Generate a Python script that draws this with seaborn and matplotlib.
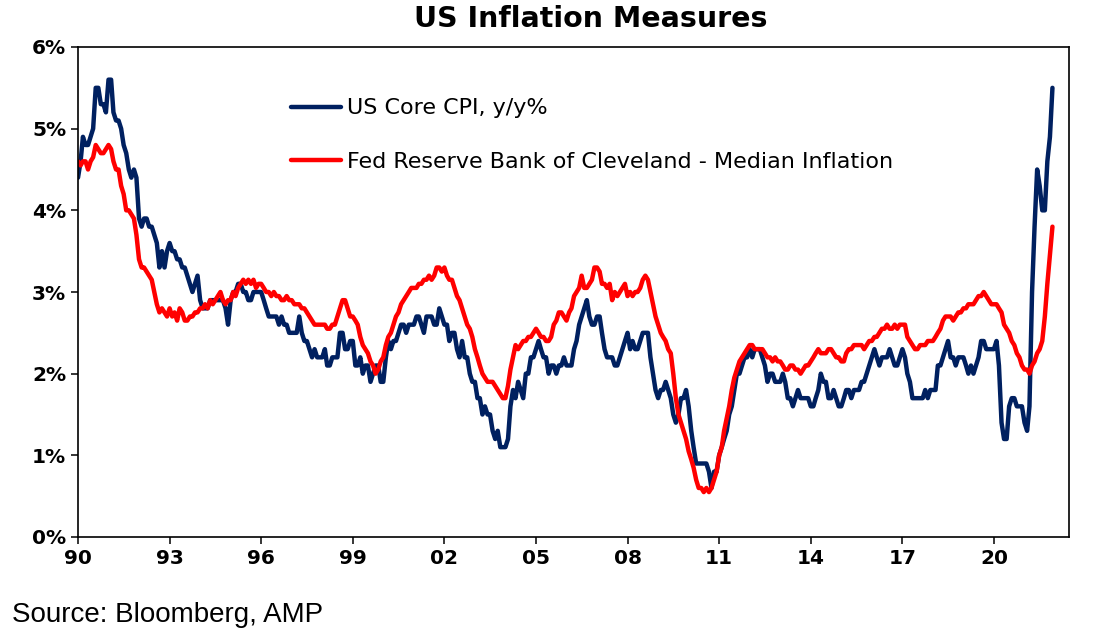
import pandas as pd
import matplotlib
matplotlib.use('Agg')
import matplotlib.pyplot as plt
import seaborn as sns
from matplotlib.ticker import PercentFormatter

# monthly y/y %, Jan 1990 - Dec 2021
core_cpi = [
    4.4, 4.6, 4.9, 4.8, 4.8, 4.9, 5.0, 5.5, 5.5, 5.3, 5.3, 5.2,  # 1990
    5.6, 5.6, 5.2, 5.1, 5.1, 5.0, 4.8, 4.7, 4.5, 4.4, 4.5, 4.4,  # 1991
    3.9, 3.8, 3.9, 3.9, 3.8, 3.8, 3.7, 3.6, 3.3, 3.5, 3.3, 3.5,  # 1992
    3.6, 3.5, 3.5, 3.4, 3.4, 3.3, 3.3, 3.2, 3.1, 3.0, 3.1, 3.2,  # 1993
    2.9, 2.8, 2.8, 2.8, 2.9, 2.9, 2.9, 2.9, 2.9, 2.9, 2.8, 2.6,  # 1994
    2.9, 3.0, 3.0, 3.1, 3.1, 3.0, 3.0, 2.9, 2.9, 3.0, 3.0, 3.0,  # 1995
    3.0, 2.9, 2.8, 2.7, 2.7, 2.7, 2.7, 2.6, 2.7, 2.6, 2.6, 2.5,  # 1996
    2.5, 2.5, 2.5, 2.7, 2.5, 2.4, 2.4, 2.3, 2.2, 2.3, 2.2, 2.2,  # 1997
    2.2, 2.3, 2.1, 2.1, 2.2, 2.2, 2.2, 2.5, 2.5, 2.3, 2.3, 2.4,  # 1998
    2.4, 2.1, 2.1, 2.2, 2.0, 2.1, 2.1, 1.9, 2.0, 2.1, 2.1, 1.9,  # 1999
    1.9, 2.2, 2.4, 2.3, 2.4, 2.4, 2.5, 2.6, 2.6, 2.5, 2.6, 2.6,  # 2000
    2.6, 2.7, 2.7, 2.6, 2.5, 2.7, 2.7, 2.7, 2.6, 2.6, 2.8, 2.7,  # 2001
    2.6, 2.6, 2.4, 2.5, 2.5, 2.3, 2.2, 2.4, 2.2, 2.2, 2.0, 1.9,  # 2002
    1.9, 1.7, 1.7, 1.5, 1.6, 1.5, 1.5, 1.3, 1.2, 1.3, 1.1, 1.1,  # 2003
    1.1, 1.2, 1.6, 1.8, 1.7, 1.9, 1.8, 1.7, 2.0, 2.0, 2.2, 2.2,  # 2004
    2.3, 2.4, 2.3, 2.2, 2.2, 2.0, 2.1, 2.1, 2.0, 2.1, 2.1, 2.2,  # 2005
    2.1, 2.1, 2.1, 2.3, 2.4, 2.6, 2.7, 2.8, 2.9, 2.7, 2.6, 2.6,  # 2006
    2.7, 2.7, 2.5, 2.3, 2.2, 2.2, 2.2, 2.1, 2.1, 2.2, 2.3, 2.4,  # 2007
    2.5, 2.3, 2.4, 2.3, 2.3, 2.4, 2.5, 2.5, 2.5, 2.2, 2.0, 1.8,  # 2008
    1.7, 1.8, 1.8, 1.9, 1.8, 1.7, 1.5, 1.4, 1.5, 1.7, 1.7, 1.8,  # 2009
    1.6, 1.3, 1.1, 0.9, 0.9, 0.9, 0.9, 0.9, 0.8, 0.6, 0.8, 0.8,  # 2010
    1.0, 1.1, 1.2, 1.3, 1.5, 1.6, 1.8, 2.0, 2.0, 2.1, 2.2, 2.2,  # 2011
    2.3, 2.2, 2.3, 2.3, 2.3, 2.2, 2.1, 1.9, 2.0, 2.0, 1.9, 1.9,  # 2012
    1.9, 2.0, 1.9, 1.7, 1.7, 1.6, 1.7, 1.8, 1.7, 1.7, 1.7, 1.7,  # 2013
    1.6, 1.6, 1.7, 1.8, 2.0, 1.9, 1.9, 1.7, 1.7, 1.8, 1.7, 1.6,  # 2014
    1.6, 1.7, 1.8, 1.8, 1.7, 1.8, 1.8, 1.8, 1.9, 1.9, 2.0, 2.1,  # 2015
    2.2, 2.3, 2.2, 2.1, 2.2, 2.2, 2.2, 2.3, 2.2, 2.1, 2.1, 2.2,  # 2016
    2.3, 2.2, 2.0, 1.9, 1.7, 1.7, 1.7, 1.7, 1.7, 1.8, 1.7, 1.8,  # 2017
    1.8, 1.8, 2.1, 2.1, 2.2, 2.3, 2.4, 2.2, 2.2, 2.1, 2.2, 2.2,  # 2018
    2.2, 2.1, 2.0, 2.1, 2.0, 2.1, 2.2, 2.4, 2.4, 2.3, 2.3, 2.3,  # 2019
    2.3, 2.4, 2.1, 1.4, 1.2, 1.2, 1.6, 1.7, 1.7, 1.6, 1.6, 1.6,  # 2020
    1.4, 1.3, 1.6, 3.0, 3.8, 4.5, 4.3, 4.0, 4.0, 4.6, 4.9, 5.5,  # 2021
]

median_cpi = [
    4.6, 4.55, 4.6, 4.6, 4.5, 4.6, 4.65, 4.8, 4.75, 4.7, 4.7, 4.75,  # 1990
    4.8, 4.75, 4.6, 4.5, 4.5, 4.3, 4.2, 4.0, 4.0, 3.95, 3.9, 3.7,  # 1991
    3.4, 3.3, 3.3, 3.25, 3.2, 3.15, 3.0, 2.85, 2.75, 2.8, 2.75, 2.7,  # 1992
    2.8, 2.7, 2.75, 2.65, 2.8, 2.75, 2.65, 2.65, 2.7, 2.7, 2.75, 2.75,  # 1993
    2.8, 2.8, 2.85, 2.8, 2.9, 2.85, 2.9, 2.95, 3.0, 2.9, 2.85, 2.9,  # 1994
    2.9, 3.0, 2.95, 3.05, 3.1, 3.15, 3.1, 3.15, 3.1, 3.15, 3.05, 3.1,  # 1995
    3.1, 3.05, 3.0, 3.0, 2.95, 3.0, 2.95, 2.95, 2.9, 2.9, 2.95, 2.9,  # 1996
    2.9, 2.85, 2.85, 2.85, 2.8, 2.8, 2.75, 2.7, 2.65, 2.6, 2.6, 2.6,  # 1997
    2.6, 2.6, 2.55, 2.55, 2.6, 2.6, 2.7, 2.8, 2.9, 2.9, 2.8, 2.7,  # 1998
    2.7, 2.65, 2.6, 2.45, 2.35, 2.3, 2.25, 2.15, 2.1, 2.0, 2.05, 2.15,  # 1999
    2.2, 2.35, 2.45, 2.5, 2.6, 2.7, 2.75, 2.85, 2.9, 2.95, 3.0, 3.05,  # 2000
    3.05, 3.05, 3.1, 3.1, 3.15, 3.15, 3.2, 3.15, 3.2, 3.3, 3.3, 3.25,  # 2001
    3.3, 3.2, 3.15, 3.15, 3.05, 2.95, 2.9, 2.8, 2.7, 2.6, 2.55, 2.45,  # 2002
    2.3, 2.2, 2.1, 2.0, 1.95, 1.9, 1.9, 1.9, 1.85, 1.8, 1.75, 1.7,  # 2003
    1.7, 1.85, 2.05, 2.2, 2.35, 2.3, 2.35, 2.4, 2.4, 2.45, 2.45, 2.5,  # 2004
    2.55, 2.5, 2.45, 2.45, 2.4, 2.4, 2.45, 2.6, 2.65, 2.75, 2.75, 2.7,  # 2005
    2.65, 2.75, 2.8, 2.95, 3.0, 3.05, 3.2, 3.05, 3.05, 3.1, 3.15, 3.3,  # 2006
    3.3, 3.25, 3.1, 3.1, 3.05, 3.1, 2.9, 3.0, 2.95, 3.0, 3.05, 3.1,  # 2007
    2.95, 3.0, 2.95, 3.0, 3.0, 3.05, 3.15, 3.2, 3.15, 3.0, 2.85, 2.7,  # 2008
    2.6, 2.5, 2.45, 2.4, 2.3, 2.25, 2.0, 1.7, 1.5, 1.4, 1.3, 1.2,  # 2009
    1.05, 0.95, 0.85, 0.7, 0.6, 0.6, 0.55, 0.6, 0.55, 0.6, 0.7, 0.8,  # 2010
    1.0, 1.1, 1.3, 1.45, 1.6, 1.8, 1.95, 2.05, 2.15, 2.2, 2.25, 2.3,  # 2011
    2.35, 2.35, 2.3, 2.3, 2.3, 2.3, 2.25, 2.2, 2.2, 2.15, 2.2, 2.15,  # 2012
    2.15, 2.1, 2.05, 2.05, 2.1, 2.1, 2.05, 2.05, 2.0, 2.05, 2.1, 2.1,  # 2013
    2.15, 2.2, 2.25, 2.3, 2.25, 2.25, 2.25, 2.3, 2.3, 2.25, 2.2, 2.2,  # 2014
    2.15, 2.15, 2.25, 2.3, 2.3, 2.35, 2.35, 2.35, 2.35, 2.3, 2.35, 2.4,  # 2015
    2.4, 2.45, 2.45, 2.5, 2.55, 2.55, 2.6, 2.55, 2.55, 2.6, 2.55, 2.6,  # 2016
    2.6, 2.6, 2.45, 2.4, 2.35, 2.3, 2.3, 2.35, 2.35, 2.35, 2.4, 2.4,  # 2017
    2.4, 2.45, 2.5, 2.55, 2.65, 2.7, 2.7, 2.7, 2.65, 2.7, 2.75, 2.75,  # 2018
    2.8, 2.8, 2.85, 2.85, 2.85, 2.9, 2.95, 2.95, 3.0, 2.95, 2.9, 2.85,  # 2019
    2.85, 2.85, 2.8, 2.75, 2.6, 2.55, 2.5, 2.4, 2.35, 2.25, 2.2, 2.1,  # 2020
    2.05, 2.05, 2.0, 2.1, 2.15, 2.25, 2.3, 2.4, 2.7, 3.1, 3.45, 3.8,  # 2021
]

dates = pd.date_range('1990-01-01', '2021-12-01', freq='MS')
tick_years = list(range(1990, 2021, 3))
tick_labels = [f'{y % 100:02d}' for y in tick_years]
series_names = ['US Core CPI, y/y%', 'Fed Reserve Bank of Cleveland - Median Inflation']
series_colors = ['#002060', '#FF0000']

df = pd.DataFrame({'date': dates, series_names[0]: core_cpi, series_names[1]: median_cpi})
df = df.melt(id_vars='date', var_name='series', value_name='value')

sns.set_theme(style='ticks')
plt.rcParams['font.family'] = ['DejaVu Sans']
plt.rcParams['text.color'] = 'black'

fig = plt.figure(figsize=(10.95, 6.33), dpi=100)
ax = fig.add_axes([78 / 1095, 1 - 537 / 633, 991 / 1095, 490 / 633])

sns.lineplot(data=df, x='date', y='value', hue='series', hue_order=series_names,
             palette=series_colors, linewidth=3.2, ax=ax)

ax.set_xlim(pd.Timestamp('1990-01-01'), pd.Timestamp('2022-06-17'))
ax.set_ylim(0, 6)
ax.set_yticks(range(0, 7))
ax.yaxis.set_major_formatter(PercentFormatter(decimals=0))
ax.set_xticks([pd.Timestamp(f'{y}-01-01') for y in tick_years])
ax.set_xticklabels(tick_labels)
ax.set_xlabel('')
ax.set_ylabel('')
ax.tick_params(axis='both', direction='out', length=5, width=1.1, color='black',
               labelsize=14.5, pad=3.5, labelcolor='black')
for lbl in ax.get_xticklabels() + ax.get_yticklabels():
    lbl.set_fontweight('bold')
for sp in ax.spines.values():
    sp.set_visible(True)
    sp.set_color('black')
    sp.set_linewidth(1.2)

leg = ax.legend(loc='upper left', bbox_to_anchor=(0.215, 0.895), frameon=False,
                fontsize=16, handlelength=2.25, handletextpad=0.25,
                labelspacing=1.49, borderpad=0, borderaxespad=0)
for line in leg.get_lines():
    line.set_linewidth(3.2)
for txt in leg.get_texts():
    txt.set_color('black')

fig.text(591 / 1095, 1 - 27 / 633, 'US Inflation Measures', ha='center', va='baseline',
         fontsize=20.5, fontweight='bold', color='black')
fig.text(12 / 1095, 1 - 622 / 633, 'Source: Bloomberg, AMP', ha='left', va='baseline',
         fontsize=20, family=['Liberation Sans'], color='black')

fig.savefig('out.png', dpi=100, facecolor='white')
